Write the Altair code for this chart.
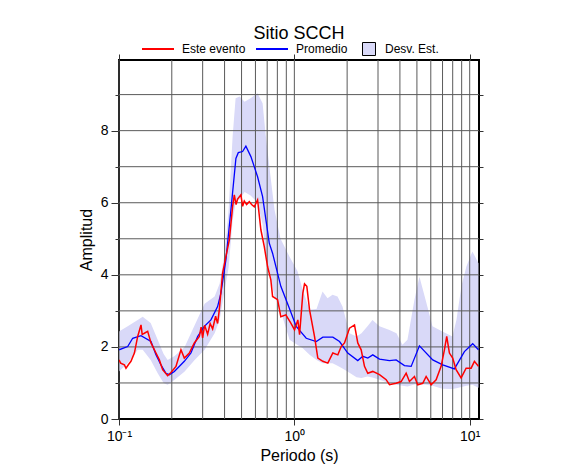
import altair as alt
import pandas as pd

# ---- Data ----
band_T = [0.1, 0.1121, 0.1278, 0.1365, 0.1516, 0.1662, 0.1797, 0.1894, 0.2076, 0.2368,
          0.27, 0.3078, 0.351, 0.3748, 0.4003, 0.4218, 0.4445, 0.4624, 0.4873, 0.5204,
          0.5628, 0.617, 0.659, 0.6855, 0.7317, 0.7711, 0.8341, 0.9389, 1.043, 1.113,
          1.221, 1.338, 1.448, 1.546, 1.651, 1.763, 1.882, 2.063, 2.262, 2.415,
          2.613, 2.79, 3.059, 3.487, 3.823, 4.135, 4.416, 4.841, 5.169, 5.666,
          6.131, 6.989, 7.97, 8.401, 8.971, 9.577, 10.36, 11.22]
band_hi = [2.43, 2.57, 2.75, 2.84, 2.66, 2.2, 1.8, 1.64, 1.75, 2.0,
           2.6, 3.2, 3.4, 3.75, 4.6, 5.8, 7.83, 8.9, 8.95, 8.8,
           8.9, 9.04, 8.76, 7.9, 6.72, 5.8, 5.0, 4.5, 4.1, 3.6,
           3.03, 3.05, 3.54, 3.35, 3.45, 3.4, 3.12, 2.38, 2.29, 2.38,
           2.57, 2.75, 2.57, 2.47, 2.38, 2.06, 2.2, 3.31, 3.95, 3.22,
           2.57, 2.43, 2.29, 2.75, 3.68, 4.23, 4.65, 4.32]
band_lo = [1.32, 1.55, 1.92, 1.92, 1.64, 1.27, 1.0, 0.95, 1.09, 1.32,
           1.64, 1.92, 2.38, 2.75, 3.58, 4.2, 5.5, 6.0, 6.1, 6.3,
           6.2, 6.0, 5.4, 4.6, 3.9, 3.4, 3.0, 2.2, 2.05, 1.97,
           1.78, 1.64, 1.55, 1.55, 1.55, 1.48, 1.4, 1.28, 1.16, 1.14,
           1.18, 1.15, 1.09, 1.0, 0.95, 0.92, 0.9, 0.96, 0.97, 0.95,
           0.92, 0.84, 0.83, 0.85, 0.89, 0.92, 0.95, 0.87]

mean_T = [0.1, 0.1121, 0.1197, 0.1335, 0.1522, 0.1625, 0.1735, 0.1852, 0.1937, 0.2069,
          0.2358, 0.2572, 0.2808, 0.3066, 0.3344, 0.365, 0.3813, 0.4072, 0.4347, 0.4642,
          0.479, 0.5069, 0.5292, 0.5652, 0.617, 0.659, 0.7194, 0.7513, 0.8374, 0.9353,
          1.025, 1.169, 1.333, 1.454, 1.658, 1.81, 2.017, 2.3, 2.457, 2.623,
          2.801, 3.059, 3.487, 3.807, 4.245, 4.636, 5.169, 6.155, 7.018, 8.182,
          9.328, 10.4, 11.22]
mean_amp = [1.92, 2.01, 2.24, 2.31, 2.15, 1.78, 1.5, 1.27, 1.23, 1.32,
            1.6, 1.83, 2.29, 2.57, 2.75, 3.12, 3.49, 4.42, 5.8, 7.23,
            7.39, 7.42, 7.57, 7.28, 6.72, 6.17, 4.88, 4.6, 3.68, 3.08,
            2.57, 2.24, 2.15, 2.27, 2.27, 2.15, 1.83, 1.62, 1.74, 1.69,
            1.78, 1.66, 1.62, 1.64, 1.48, 1.46, 2.03, 1.64, 1.5, 1.39,
            1.87, 2.09, 1.92]

evt_T = [0.1, 0.1022, 0.1073, 0.1096, 0.1136, 0.117, 0.1224, 0.1278, 0.1335, 0.1356,
         0.1395, 0.1457, 0.1522, 0.1625, 0.1699, 0.1774, 0.1894, 0.1978, 0.2113, 0.2256,
         0.2358, 0.2518, 0.2689, 0.2872, 0.294, 0.2998, 0.3078, 0.3202, 0.3309, 0.342,
         0.3556, 0.365, 0.3733, 0.3898, 0.4072, 0.4258, 0.4445, 0.4545, 0.4654, 0.4746,
         0.4957, 0.5069, 0.5183, 0.5341, 0.5534, 0.5704, 0.591, 0.617, 0.6443, 0.6738,
         0.7036, 0.7344, 0.7513, 0.8024, 0.8374, 0.8946, 0.9552, 1.0025, 1.047, 1.071,
         1.118, 1.143, 1.178, 1.221, 1.303, 1.361, 1.454, 1.552, 1.658, 1.77,
         1.85, 1.932, 2.063, 2.203, 2.3, 2.405, 2.512, 2.623, 2.801, 3.059,
         3.339, 3.487, 3.807, 4.065, 4.341, 4.533, 4.841, 5.055, 5.398, 5.644,
         6.027, 6.435, 6.871, 7.175, 7.395, 7.662, 8.0, 8.366, 8.933, 9.539,
         10.19, 10.64, 11.22]
evt_amp = [1.64, 1.55, 1.5, 1.41, 1.52, 1.6, 1.83, 2.29, 2.61, 2.35,
           2.38, 2.43, 2.11, 1.83, 1.64, 1.37, 1.2, 1.29, 1.46, 1.92,
           1.69, 1.83, 2.11, 2.29, 2.55, 2.25, 2.6, 2.35, 2.65, 2.5,
           2.85, 2.65, 3.03, 4.05, 4.51, 4.97, 5.89, 6.22, 5.95, 6.1,
           6.22, 5.9, 6.05, 5.95, 6.03, 5.95, 5.89, 6.08, 5.25, 4.78,
           4.23, 3.86, 3.4, 3.31, 2.84, 2.89, 2.66, 2.47, 2.75, 2.34,
           3.49, 3.75, 3.68, 3.03, 2.29, 1.69, 1.6, 1.55, 1.83, 1.78,
           2.01, 2.11, 2.52, 2.61, 2.11, 1.92, 1.46, 1.27, 1.32, 1.23,
           1.09, 0.95, 0.99, 1.04, 1.27, 1.04, 1.18, 0.95, 0.99, 1.18,
           0.95, 1.09, 1.46, 1.92, 2.29, 1.83, 1.69, 1.37, 1.14, 1.41,
           1.41, 1.6, 1.46]

x_grid = [0.1, 0.2, 0.3, 0.4, 0.5, 0.6, 0.7, 0.8, 0.9, 1, 2, 3, 4, 5, 6, 7, 8, 9, 10]
y_grid = [1, 2, 3, 4, 5, 6, 7, 8, 9]
x_major = [0.1, 1, 10]
y_ticks = [0, 1, 2, 3, 4, 5, 6, 7, 8, 9]

series_names = ["Este evento", "Promedio"]
series_colors = ["#ff0000", "#0000ff"]
band_name = "Desv. Est."
band_color = "#d9d9f8"

FONT = "Liberation Sans"

band_df = pd.DataFrame({"T": band_T, "lo": band_lo, "hi": band_hi, "banda": band_name})
mean_df = pd.DataFrame({"T": mean_T, "amp": mean_amp, "serie": "Promedio"})
evt_df = pd.DataFrame({"T": evt_T, "amp": evt_amp, "serie": "Este evento"})
xg_df = pd.DataFrame({"T": x_grid})
yg_df = pd.DataFrame({"amp": y_grid})

xscale = alt.Scale(type="log", domain=[0.1, 11.3], nice=False)
yscale = alt.Scale(domain=[0, 9.96], nice=False, zero=False)

major_size = {"condition": {"test": "datum.value % 2 == 0", "value": 8}, "value": 4}

x_bottom = alt.Axis(values=x_major, title="Periodo (s)", grid=False, domain=False,
                    labelExpr="datum.value < 0.5 ? '10⁻¹' : (datum.value < 5 ? '10⁰' : '10¹')",
                    labelFlush=False, labelOverlap=False,
                    tickSize=6, tickColor="#333333", labelFontSize=14, labelFont=FONT,
                    labelColor="black", labelPadding=4, titleFont=FONT, titleFontSize=16,
                    titleFontWeight="normal", titleColor="black", titlePadding=4,
                    orient="bottom")
y_left = alt.Axis(values=y_ticks, title="Amplitud", grid=False, domain=False,
                  labelExpr="datum.value % 2 == 0 ? datum.label : ''",
                  labelFlush=False, labelOverlap=False,
                  tickSize=major_size, tickColor="#333333", labelFontSize=14, labelFont=FONT,
                  labelColor="black", labelPadding=3, titleFont=FONT, titleFontSize=16,
                  titleFontWeight="normal", titleColor="black", titlePadding=6,
                  orient="left")
x_top = alt.Axis(values=x_major, title=None, labels=False, grid=False, domain=False,
                 tickSize=6, tickColor="#333333", orient="top")
y_right = alt.Axis(values=y_ticks, title=None, labels=False, grid=False, domain=False,
                   tickSize=4, tickColor="#333333", orient="right")

band = alt.Chart(band_df).mark_area(clip=True).encode(
    x=alt.X("T:Q", scale=xscale, axis=x_bottom),
    y=alt.Y("lo:Q", scale=yscale, axis=y_left),
    y2="hi:Q",
    fill=alt.Fill("banda:N", scale=alt.Scale(domain=[band_name], range=[band_color]),
                  legend=alt.Legend(title=None, orient="none", legendX=243, legendY=-18,
                                    symbolType="square", symbolSize=169,
                                    symbolStrokeColor="black", symbolStrokeWidth=1,
                                    labelFont=FONT, labelFontSize=12, labelOffset=9,
                                    padding=0)),
)

xgrid = alt.Chart(xg_df).mark_rule(color="#5a5a5a", strokeWidth=1).encode(
    x=alt.X("T:Q", scale=xscale, axis=None))
ygrid = alt.Chart(yg_df).mark_rule(color="#5a5a5a", strokeWidth=1).encode(
    y=alt.Y("amp:Q", scale=yscale, axis=None))

color_scale = alt.Scale(domain=series_names, range=series_colors)
color_legend = alt.Legend(title=None, orient="none", legendX=22, legendY=-28,
                          direction="horizontal", symbolType="stroke", symbolSize=1024,
                          symbolStrokeWidth=2, labelFont=FONT, labelFontSize=12,
                          labelOffset=7, columnPadding=6, padding=0)

mean_line = alt.Chart(mean_df).mark_line(strokeWidth=1.3, clip=True).encode(
    x=alt.X("T:Q", scale=xscale, axis=None),
    y=alt.Y("amp:Q", scale=yscale, axis=None),
    color=alt.Color("serie:N", scale=color_scale, legend=color_legend),
)
evt_line = alt.Chart(evt_df).mark_line(strokeWidth=1.5, clip=True).encode(
    x=alt.X("T:Q", scale=xscale, axis=x_top),
    y=alt.Y("amp:Q", scale=yscale, axis=y_right),
    color=alt.Color("serie:N", scale=color_scale, legend=color_legend),
)

chart = alt.layer(band, xgrid, ygrid, mean_line, evt_line).resolve_axis(
    x="independent", y="independent"
).properties(
    width=360, height=359,
    background="white",
    title=alt.TitleParams("Sitio SCCH", font=FONT, fontSize=18, fontWeight="normal",
                          color="black", anchor="middle", offset=10, dy=21),
    autosize=alt.AutoSizeParams(type="none"),
    padding={"left": 111, "top": 52, "right": 90, "bottom": 50},
).configure_view(stroke="black", strokeWidth=2)

chart.save("out.html", embed_options={"renderer": "svg", "actions": False})
